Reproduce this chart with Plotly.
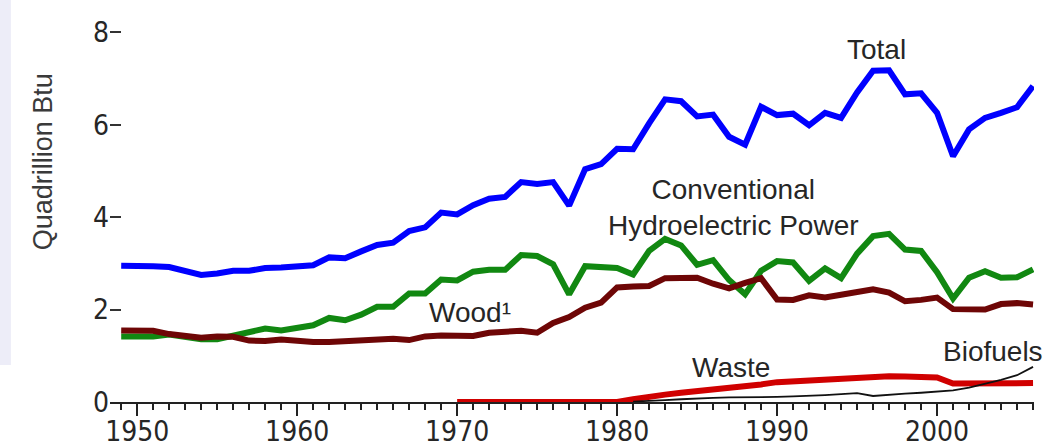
import plotly.graph_objects as go

years = list(range(1949, 2007))

total = [2.95, 2.96, 2.94, 2.92, 2.83, 2.75, 2.78, 2.84, 2.84, 2.90, 2.91, 2.92, 2.96,
         3.13, 3.11, 3.26, 3.40, 3.45, 3.70, 3.78, 4.10, 4.06, 4.26, 4.40, 4.44, 4.76,
         4.72, 4.76, 4.25, 5.04, 5.15, 5.48, 5.47, 6.03, 6.55, 6.51, 6.18, 6.22, 5.74,
         5.57, 6.39, 6.21, 6.24, 5.99, 6.26, 6.15, 6.70, 7.17, 7.18, 6.66, 6.68, 6.26,
         5.32, 5.90, 6.15, 6.26, 6.38, 6.84]

hydro = [1.42, 1.41, 1.42, 1.46, 1.41, 1.36, 1.36, 1.43, 1.51, 1.59, 1.55, 1.61, 1.66,
         1.82, 1.77, 1.89, 2.06, 2.06, 2.35, 2.35, 2.65, 2.63, 2.82, 2.86, 2.86, 3.18,
         3.16, 2.98, 2.33, 2.94, 2.93, 2.90, 2.76, 3.27, 3.53, 3.39, 2.97, 3.07, 2.64,
         2.33, 2.84, 3.05, 3.02, 2.62, 2.89, 2.68, 3.21, 3.59, 3.64, 3.30, 3.27, 2.81,
         2.24, 2.69, 2.83, 2.69, 2.70, 2.87]

wood = [1.55, 1.56, 1.54, 1.47, 1.42, 1.39, 1.42, 1.41, 1.33, 1.32, 1.35, 1.32, 1.30,
        1.30, 1.32, 1.34, 1.34, 1.37, 1.34, 1.42, 1.44, 1.43, 1.43, 1.50, 1.53, 1.54,
        1.50, 1.71, 1.84, 2.04, 2.15, 2.48, 2.50, 2.51, 2.68, 2.69, 2.69, 2.56, 2.46,
        2.58, 2.68, 2.22, 2.21, 2.31, 2.26, 2.32, 2.37, 2.44, 2.37, 2.18, 2.21, 2.26,
        2.01, 2.00, 2.00, 2.12, 2.14, 2.11]

waste_years = list(range(1970, 2007))
waste = [0.0, 0.0, 0.0, 0.0, 0.0, 0.0, 0.0, 0.0, 0.0, 0.0, 0.0,
         0.06, 0.12, 0.16, 0.20, 0.23, 0.26, 0.29, 0.32, 0.38, 0.43, 0.45, 0.47,
         0.49, 0.52, 0.54, 0.57, 0.56, 0.55, 0.54, 0.53, 0.40, 0.40, 0.40, 0.40,
         0.41, 0.41]

bio_years = list(range(1981, 2007))
biofuels = [0.01, 0.02, 0.04, 0.06, 0.08, 0.09, 0.10, 0.10, 0.11, 0.11, 0.12, 0.13,
            0.15, 0.17, 0.19, 0.13, 0.16, 0.18, 0.20, 0.23, 0.25, 0.31, 0.39, 0.48,
            0.58, 0.76]

y_ticks = [0, 2, 4, 6, 8]

TXT = "#262626"
LABEL_FONT = dict(family="Liberation Sans, Arial, sans-serif", size=28, color=TXT)
TICK_FONT = dict(family="Liberation Sans Narrow, Arial Narrow, DejaVu Sans Condensed, sans-serif",
                 size=28, color=TXT)

fig = go.Figure()
fig.add_trace(go.Scatter(x=years, y=total, mode="lines", name="Total",
                         line=dict(color="#0000FF", width=6)))
fig.add_trace(go.Scatter(x=years, y=hydro, mode="lines", name="Conventional Hydroelectric Power",
                         line=dict(color="#118811", width=6)))
fig.add_trace(go.Scatter(x=years, y=wood, mode="lines", name="Wood",
                         line=dict(color="#6E0606", width=6)))
fig.add_trace(go.Scatter(x=waste_years, y=waste, mode="lines", name="Waste",
                         line=dict(color="#D00000", width=6)))
fig.add_trace(go.Scatter(x=bio_years, y=biofuels, mode="lines", name="Biofuels",
                         line=dict(color="#111111", width=1.8)))

annotations = [
    dict(x=1996.2, y=7.62, text="Total", xanchor="center"),
    dict(x=1987.3, y=4.22, text="Conventional<br>Hydroelectric Power", xanchor="center"),
    dict(x=1970.8, y=1.93, text="Wood¹", xanchor="center"),
    dict(x=1987.1, y=0.75, text="Waste", xanchor="center"),
    dict(x=2006.0, y=1.09, text="Biofuels", xanchor="right", xshift=12),
]
for a in annotations:
    a.update(xref="x", yref="y", showarrow=False, font=LABEL_FONT,
             yanchor="middle", align="center")

annotations.append(dict(xref="paper", yref="paper", x=-0.0725, y=0.646,
                        text="Quadrillion Btu", textangle=-90, showarrow=False,
                        font=dict(family="Liberation Sans, Arial, sans-serif", size=27, color="#3a3a3a"),
                        xanchor="center", yanchor="middle"))

fig.update_layout(
    width=1050, height=448,
    margin=dict(l=110, r=16, t=31, b=46, pad=0),
    paper_bgcolor="white", plot_bgcolor="white",
    showlegend=False,
    annotations=annotations,
    shapes=[dict(type="rect", xref="paper", yref="paper",
                 x0=-0.11905, x1=-0.1072, y0=0.1, y1=1.0865,
                 fillcolor="#EDEDF8", line=dict(width=0), layer="above")],
)

fig.update_xaxes(range=[1948.3, 2006.06], tickmode="linear", tick0=1950, dtick=10,
                 ticks="outside", ticklen=12, tickwidth=2, tickcolor="#222222",
                 ticklabelstandoff=-9,
                 showline=True, linecolor="#222222", linewidth=2, automargin=False,
                 showgrid=False, zeroline=False, tickfont=TICK_FONT,
                 minor=dict(dtick=1, ticks="outside", ticklen=6, tickwidth=1.5,
                            tickcolor="#222222", showgrid=False))
fig.update_yaxes(range=[0, 8.03], tickmode="array", tickvals=y_ticks,
                 ticktext=[str(v) for v in y_ticks], automargin=False,
                 ticks="inside", ticklen=11, tickwidth=2, tickcolor="#333333",
                 showline=False, showgrid=False, zeroline=False, tickfont=TICK_FONT)

fig.write_html("out.html", config={"displayModeBar": False},
               post_script="document.body.style.margin='0';document.body.style.overflow='hidden';")
